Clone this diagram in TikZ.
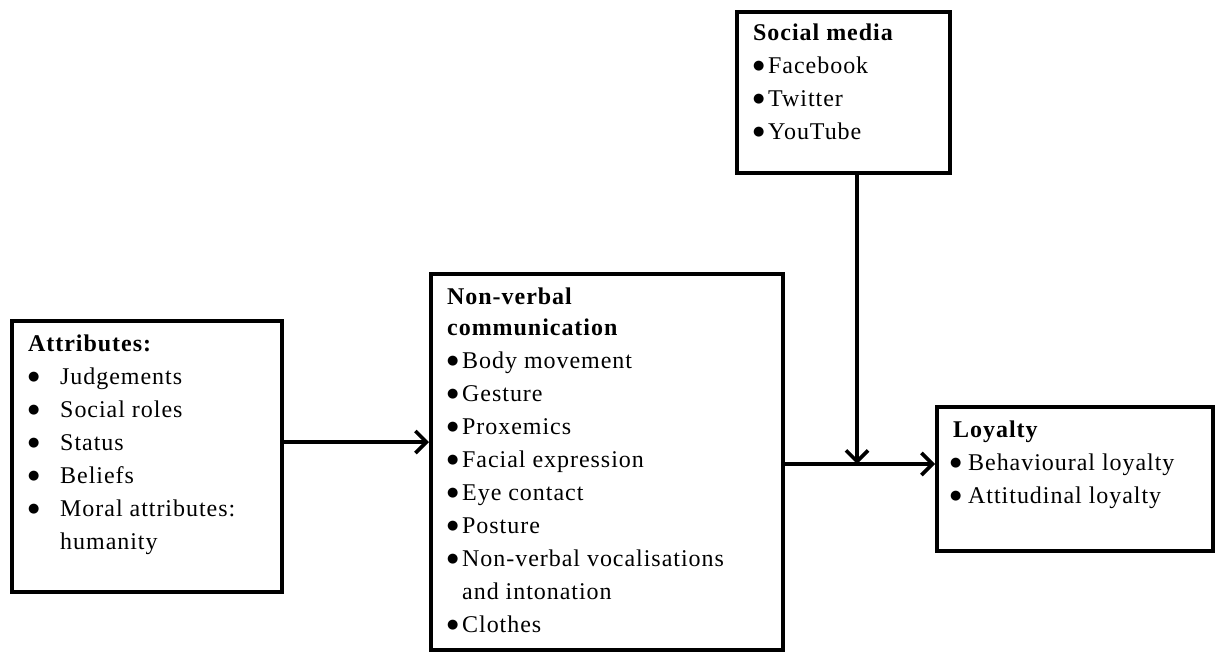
\documentclass[tikz,border=0pt]{standalone}
\usepackage{fontspec}
\setmainfont{Liberation Serif}[LetterSpace=4]
\newfontfamily\bulfont{DejaVu Sans}
\usetikzlibrary{arrows.meta}
\tikzset{
  box/.style={draw, line width=4pt, rectangle, inner sep=0pt, anchor=north west},
  txt/.style={anchor=base west, inner sep=0pt, font=\fontsize{24}{33}\selectfont},
  conn/.style={line width=3.6pt, -{Straight Barb[length=11pt,width=22pt,line width=3.6pt]}},
}
\newcommand\bul{\raisebox{3.5pt}{\bulfont\fontsize{13}{13}\selectfont ●}}
\newcommand\nvitem[1]{\hbox{\hbox to 15pt{\bul\hfil}#1}}
\newcommand\attitem[1]{\hbox{\hbox to 32pt{\bul\hfil}#1}}
\begin{document}
\begin{tikzpicture}[x=1pt,y=-1pt]
\useasboundingbox (0,0) rectangle (1215,653);
% boxes
\node[box, minimum width=270pt, minimum height=271pt] (attr) at (10,319) {};
\node[box, minimum width=352pt, minimum height=376pt] (nv) at (429,272) {};
\node[box, minimum width=213pt, minimum height=161pt] (social) at (735,10) {};
\node[box, minimum width=276pt, minimum height=144pt] (loyal) at (935,405) {};
% texts
\node[txt] (attrT) at (28,351) {\vtop{%
  \hbox{\bfseries Attributes:}
  \attitem{Judgements}
  \attitem{Social roles}
  \attitem{Status}
  \attitem{Beliefs}
  \attitem{Moral attributes:}
  \hbox{\hskip32pt humanity}}};
\node[txt] (nvT) at (447,304) {\vtop{%
  \baselineskip=31pt
  \hbox{\bfseries Non-verbal}
  \hbox{\bfseries communication}
  \baselineskip=33pt
  \nvitem{Body movement}
  \nvitem{Gesture}
  \nvitem{Proxemics}
  \nvitem{Facial expression}
  \nvitem{Eye contact}
  \nvitem{Posture}
  \nvitem{Non-verbal vocalisations}
  \hbox{\hskip15pt and intonation}
  \nvitem{Clothes}}};
\node[txt] (socialT) at (753,40) {\vtop{%
  \hbox{\bfseries Social media}
  \nvitem{Facebook}
  \nvitem{Twitter}
  \nvitem{YouTube}}};
\node[txt] (loyalT) at (950,437) {\vtop{%
  \hbox{\hskip3pt\bfseries Loyalty}
  \hbox{\hbox to 18pt{\bul\hfil}Behavioural loyalty}
  \hbox{\hbox to 18pt{\bul\hfil}Attitudinal loyalty}}};
% connectors
\coordinate (a1) at (0,442);
\coordinate (a2) at (857,464);
\draw[conn] (attr.east |- a1) -- (nv.west |- a1);
\draw[conn] (nv.east |- a2) -- (loyal.west |- a2);
\draw[conn] (social.south -| a2) -- (a2);
\end{tikzpicture}
\end{document}
